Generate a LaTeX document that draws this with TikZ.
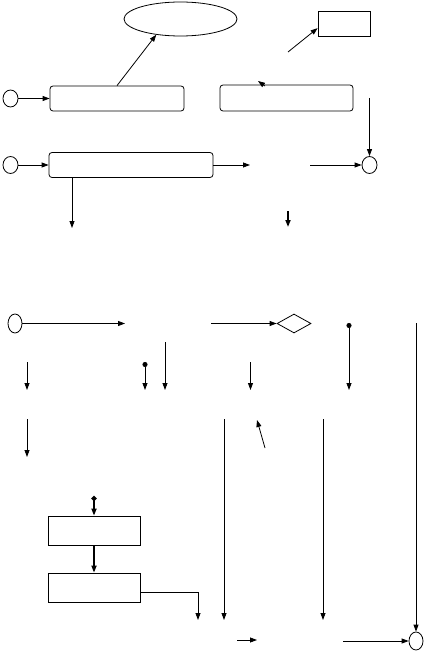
\documentclass[tikz,border=0pt]{standalone}
\usetikzlibrary{arrows.meta,positioning,shapes.geometric}
\tikzset{
  sbox/.style={draw, rounded corners=3pt, minimum width=#1, minimum height=25pt, inner sep=0pt},
  pbox/.style={draw, minimum width=92pt, minimum height=29pt, inner sep=0pt},
  term/.style={draw, ellipse, minimum width=15pt, minimum height=17pt, inner sep=0pt},
  flow/.style={-{Triangle[length=7pt,width=5pt]}, line width=0.8pt},
  thickflow/.style={-{Triangle[length=7pt,width=5pt]}, line width=1.6pt},
  dotflow/.style={{Circle[length=5pt]}-{Triangle[length=7pt,width=5pt]}, line width=0.8pt},
}
\begin{document}
\begin{tikzpicture}[x=1pt, y=-1pt, line width=0.8pt]
  \useasboundingbox[fill=white] (0,0) rectangle (424,652);
  % Upper part
  \node[draw, ellipse, minimum width=113pt, minimum height=34pt, inner sep=0pt] (goal) at (180.5,19) {};
  \node[draw, minimum width=52pt, minimum height=25pt, inner sep=0pt] (note) at (344,23.5) {};
  \node[term] (start1) at (10.5,98.5) {};
  \node[sbox=134pt] (box1) at (117,98.5) {};
  \node[sbox=133pt, minimum height=26pt] (box2) at (286.5,98) {};
  \node[term] (end1) at (369.5,165) {};
  \node[term] (start2) at (10.5,165) {};
  \node[sbox=164pt] (box3) at (131,165) {};
  % Middle part
  \node[term, minimum width=14pt, minimum height=19pt] (start3) at (15,323.5) {};
  \node[draw, diamond, minimum width=34pt, minimum height=19pt, inner sep=0pt] (choice) at (294,323.5) {};
  % Lower part
  \node[pbox] (box4) at (94,530.5) {};
  \node[pbox] (box5) at (94,587.5) {};
  \node[term, minimum width=14pt, minimum height=18pt] (end2) at (416,641) {};

  % Free ends
  \coordinate (n1) at (288,52);
  \coordinate (t1) at (265,86);
  \coordinate (t2) at (258,81);
  \coordinate (r1) at (369.5,98);
  \coordinate (e1) at (250,165);
  \coordinate (e2) at (310,165);
  \coordinate (d1) at (72,228);
  \coordinate (d2a) at (288,211);
  \coordinate (d2b) at (288,227);
  \coordinate (m1) at (125,323.5);
  \coordinate (m2) at (211,323.5);
  \coordinate (k1a) at (349,323);
  \coordinate (k1b) at (349,390);
  \coordinate (k2) at (416,323);
  \coordinate (a1a) at (27,362);
  \coordinate (a1b) at (27,390);
  \coordinate (a2a) at (145,362);
  \coordinate (a2b) at (145,390);
  \coordinate (a3a) at (165,342);
  \coordinate (a3b) at (165,390);
  \coordinate (a4a) at (250.5,362);
  \coordinate (a4b) at (250.5,390);
  \coordinate (b1a) at (27,419);
  \coordinate (b1b) at (27,457);
  \coordinate (b2a) at (224,419);
  \coordinate (b2b) at (224,620);
  \coordinate (b3a) at (265,448);
  \coordinate (b3b) at (257,420);
  \coordinate (b4a) at (323,419);
  \coordinate (b4b) at (323,620);
  \coordinate (p0) at (94,496);
  \coordinate (p1) at (198,620);
  \coordinate (f1a) at (237,640);
  \coordinate (f1b) at (257,640);
  \coordinate (f2) at (343,641);

  % Connectors
  \draw[flow] (box1.north) -- (goal.213);
  \draw[flow] (n1) -- (note.190);
  \draw[flow] (t1) -- (t2);
  \draw[flow] (r1) -- (end1);
  \draw[flow] (start1) -- (box1);
  \draw[flow] (start2) -- (box3);
  \draw[flow] (box3.east) -- (e1);
  \draw[flow] (e2) -- (end1);
  \draw[flow] (box3.south -| d1) -- (d1);
  \draw[thickflow] (d2a) -- (d2b);
  \draw[flow] (start3) -- (m1);
  \draw[flow] (m2) -- (choice);
  \draw[dotflow] (k1a) -- (k1b);
  \draw[flow] (k2) -- (end2.north);
  \draw[flow] (a1a) -- (a1b);
  \draw[dotflow] (a2a) -- (a2b);
  \draw[flow] (a3a) -- (a3b);
  \draw[flow] (a4a) -- (a4b);
  \draw[flow] (b1a) -- (b1b);
  \draw[flow] (b2a) -- (b2b);
  \draw[flow] (b3a) -- (b3b);
  \draw[flow] (b4a) -- (b4b);
  \draw[dotflow, line width=1.6pt] (p0) -- (box4);
  \draw[thickflow] (box4) -- (box5);
  \draw[flow] ([yshift=-4.5pt]box5.east) -| (p1);
  \draw[flow] (f1a) -- (f1b);
  \draw[flow] (f2) -- (end2);
\end{tikzpicture}
\end{document}
